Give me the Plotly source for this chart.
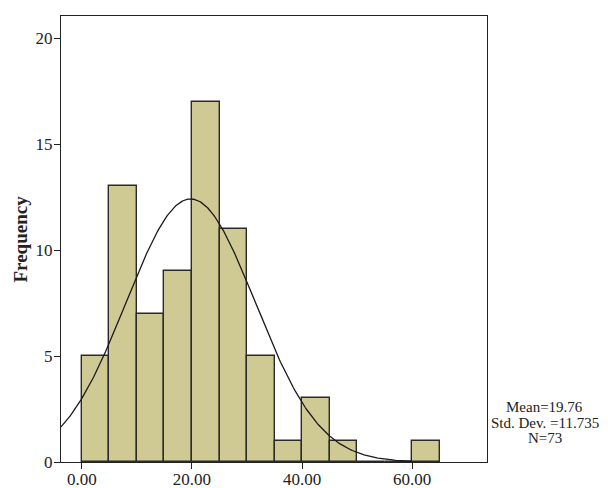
import numpy as np
import plotly.graph_objects as go

# Histogram data (bin width 5)
bin_starts = [0, 5, 10, 15, 20, 25, 30, 35, 40, 45, 50, 55, 60]
counts = [5, 13, 7, 9, 17, 11, 5, 1, 3, 1, 0, 0, 1]
bin_width = 5

# Summary statistics
mean_val = 19.76
std_val = 11.735
n_val = 73
stats_lines = [f"Mean={mean_val}", f"Std. Dev. ={std_val}", f"N={n_val}"]

x_tick_vals = [0, 20, 40, 60]
x_tick_text = ["0.00", "20.00", "40.00", "60.00"]
y_tick_vals = [0, 5, 10, 15, 20]

x_range = [-3.8, 73.6]
y_range = [0, 21.04]

FONT = "Liberation Serif"
BAR_COLOR = "#CFC994"
EDGE = "#2a2a2a"

centers = [s + bin_width / 2 for s in bin_starts]

fig = go.Figure()
fig.add_trace(go.Bar(
    x=centers, y=counts, width=[bin_width] * len(counts),
    marker=dict(color=BAR_COLOR, line=dict(color=EDGE, width=1.4)),
    showlegend=False, hoverinfo="x+y",
))

# Fitted normal curve from the stated mean / SD / N
xs = np.linspace(x_range[0], 60, 300)
ys = n_val * bin_width / (std_val * np.sqrt(2 * np.pi)) * np.exp(-((xs - mean_val) ** 2) / (2 * std_val ** 2))
fig.add_trace(go.Scatter(x=xs, y=ys, mode="lines",
                         line=dict(color="#1a1a1a", width=1.3),
                         showlegend=False, hoverinfo="skip"))

axis_common = dict(showgrid=False, zeroline=False, showline=True, mirror=True,
                   linecolor="#222", linewidth=1.2, ticks="outside", ticklen=6,
                   tickcolor="#222", automargin=False,
                   tickfont=dict(family=FONT, size=17, color="#222"))

annotations = [
    dict(text="<b>Frequency</b>", xref="paper", yref="paper",
         x=-0.0974, y=0.5, textangle=-90, showarrow=False,
         xanchor="center", yanchor="middle",
         font=dict(family=FONT, size=19, color="#222")),
]
for line, yp in zip(stats_lines, [0.1222, 0.0874, 0.0527]):
    annotations.append(dict(text=line, xref="paper", yref="paper", x=1.136, y=yp,
                            showarrow=False, xanchor="center", yanchor="middle",
                            borderpad=0,
                            font=dict(family=FONT, size=15, color="#222")))

fig.update_layout(
    width=600, height=496,
    margin=dict(l=53, r=121, t=8, b=42),
    paper_bgcolor="white", plot_bgcolor="white",
    font=dict(family=FONT, size=17, color="#222"),
    bargap=0,
    xaxis=dict(range=x_range, tickvals=x_tick_vals, ticktext=x_tick_text,
               ticklabelstandoff=-5, **axis_common),
    yaxis=dict(range=y_range, tickvals=y_tick_vals, ticklabelstandoff=-2, **axis_common),
    annotations=annotations,
)

fig.write_html("out.html")
